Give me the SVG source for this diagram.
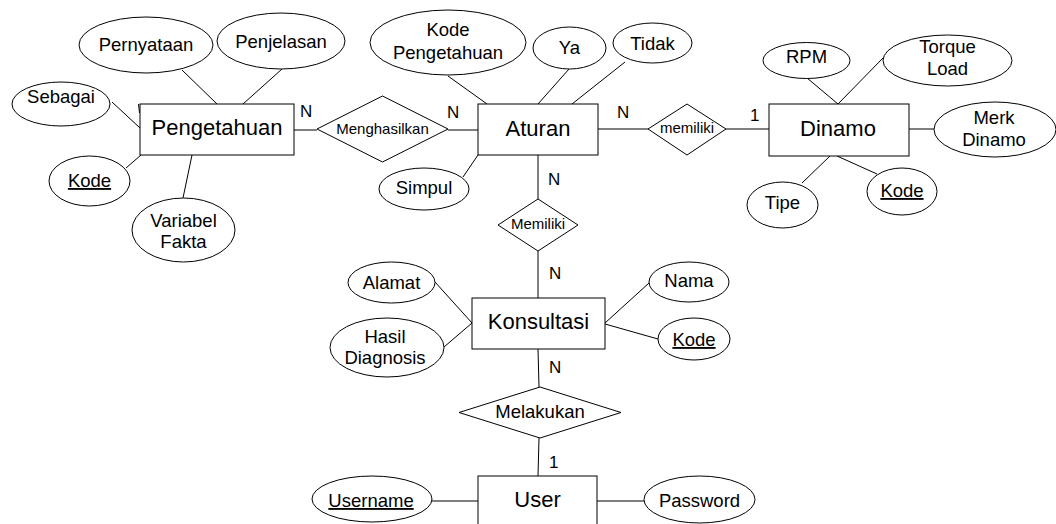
<svg xmlns="http://www.w3.org/2000/svg" width="1056" height="524" viewBox="0 0 1056 524">
<style>
text{font-family:"Liberation Sans",Arial,sans-serif;fill:#000;text-anchor:middle}
.ent{font-size:22px}
.att{font-size:18.5px}
.rel{font-size:15px}
.card{font-size:17px;text-anchor:start}
.u{text-decoration:underline}
rect,ellipse,polygon{fill:#fff;stroke:#000;stroke-width:1}
#connectors line{stroke:#000;stroke-width:1}
</style>
<rect x="0" y="0" width="1056" height="524" style="fill:#fff;stroke:none"/>
<g id="connectors">
<line x1="182" y1="70" x2="217" y2="104"/>
<line x1="282" y1="69" x2="243" y2="104"/>
<line x1="112" y1="102" x2="140" y2="128"/>
<line x1="138.5" y1="104" x2="139.5" y2="113"/>
<line x1="126" y1="168" x2="141" y2="155"/>
<line x1="192" y1="155" x2="183" y2="198"/>
<line x1="294" y1="130" x2="317" y2="130"/>
<line x1="448" y1="130" x2="478" y2="130"/>
<line x1="448" y1="76" x2="487" y2="104"/>
<line x1="569" y1="69" x2="538" y2="104"/>
<line x1="625" y1="62" x2="572" y2="104"/>
<line x1="463" y1="177" x2="478" y2="155"/>
<line x1="598" y1="129" x2="648" y2="129"/>
<line x1="726" y1="129" x2="769" y2="129"/>
<line x1="807" y1="78" x2="838" y2="104"/>
<line x1="883" y1="58" x2="838" y2="104"/>
<line x1="909" y1="129" x2="934" y2="129"/>
<line x1="802" y1="183" x2="830" y2="156"/>
<line x1="877" y1="174" x2="837" y2="156"/>
<line x1="538" y1="155" x2="538" y2="199"/>
<line x1="538" y1="251" x2="538" y2="298"/>
<line x1="435" y1="282" x2="472" y2="323"/>
<line x1="444" y1="347" x2="472" y2="323"/>
<line x1="649" y1="283" x2="605" y2="323"/>
<line x1="658" y1="339" x2="605" y2="324"/>
<line x1="538" y1="349" x2="539" y2="387"/>
<line x1="539" y1="438" x2="538" y2="476"/>
<line x1="432" y1="501" x2="478" y2="501"/>
<line x1="597" y1="501" x2="644" y2="501"/>
</g>
<g id="pengetahuan"><rect x="140" y="104" width="154" height="51"/><text class="ent" x="217" y="135">Pengetahuan</text></g>
<g id="pernyataan"><ellipse cx="146" cy="45" rx="67" ry="28"/><text class="att" x="146" y="50.5">Pernyataan</text></g>
<g id="penjelasan"><ellipse cx="281" cy="41" rx="64" ry="28"/><text class="att" x="281" y="48">Penjelasan</text></g>
<g id="sebagai"><ellipse cx="61" cy="104" rx="49" ry="22"/><text class="att" x="61" y="103">Sebagai</text></g>
<g id="kode-pengetahuan-key"><ellipse cx="89.5" cy="181" rx="40.5" ry="25"/><text class="att u" x="89.5" y="187">Kode</text></g>
<g id="variabel-fakta"><ellipse cx="183.5" cy="230" rx="51.5" ry="32"/><text class="att" x="183.5" y="227">Variabel</text><text class="att" x="183.5" y="248">Fakta</text></g>
<g id="menghasilkan"><polygon points="317,129 382.5,96 448,129 382.5,162"/><text class="rel" x="382.5" y="134">Menghasilkan</text></g>
<g id="aturan"><rect x="478" y="104" width="120" height="51"/><text class="ent" x="538" y="136">Aturan</text></g>
<g id="kode-pengetahuan"><ellipse cx="448" cy="42.5" rx="78" ry="32.5"/><text class="att" x="448" y="36">Kode</text><text class="att" x="448" y="59">Pengetahuan</text></g>
<g id="ya"><ellipse cx="569.5" cy="48" rx="36.5" ry="21"/><text class="att" x="569.5" y="54">Ya</text></g>
<g id="tidak"><ellipse cx="652.5" cy="43" rx="39.5" ry="20"/><text class="att" x="652.5" y="50">Tidak</text></g>
<g id="simpul"><ellipse cx="424" cy="189" rx="45" ry="21"/><text class="att" x="424" y="194">Simpul</text></g>
<g id="memiliki-dinamo"><polygon points="648,129 687,104 726,129 687,155"/><text class="rel" x="687" y="133">memiliki</text></g>
<g id="dinamo"><rect x="769" y="104" width="140" height="52"/><text class="ent" x="838" y="136">Dinamo</text></g>
<g id="rpm"><ellipse cx="806.5" cy="60.5" rx="43.5" ry="18"/><text class="att" x="806.5" y="62.5">RPM</text></g>
<g id="torque-load"><ellipse cx="947.5" cy="60.5" rx="64.5" ry="25.5"/><text class="att" x="947.5" y="53">Torque</text><text class="att" x="947.5" y="75">Load</text></g>
<g id="merk-dinamo"><ellipse cx="995" cy="129.5" rx="61" ry="27.5"/><text class="att" x="994" y="124">Merk</text><text class="att" x="994" y="146">Dinamo</text></g>
<g id="tipe"><ellipse cx="782.5" cy="205" rx="35.5" ry="23"/><text class="att" x="782.5" y="209">Tipe</text></g>
<g id="kode-dinamo"><ellipse cx="902" cy="191.5" rx="35" ry="23.5"/><text class="att u" x="902" y="197">Kode</text></g>
<g id="memiliki"><polygon points="498,225 538,199 578,225 538,251"/><text class="rel" x="538" y="229">Memiliki</text></g>
<g id="konsultasi"><rect x="472" y="298" width="133" height="51"/><text class="ent" x="538.5" y="329">Konsultasi</text></g>
<g id="alamat"><ellipse cx="391.5" cy="282.5" rx="43.5" ry="20.5"/><text class="att" x="391.5" y="289">Alamat</text></g>
<g id="hasil-diagnosis"><ellipse cx="387" cy="347.5" rx="57" ry="29.5"/><text class="att" x="385" y="343">Hasil</text><text class="att" x="385" y="364">Diagnosis</text></g>
<g id="nama"><ellipse cx="689" cy="282" rx="40" ry="20"/><text class="att" x="689" y="287">Nama</text></g>
<g id="kode-konsultasi"><ellipse cx="694" cy="339" rx="36" ry="21"/><text class="att u" x="694" y="346">Kode</text></g>
<g id="melakukan"><polygon points="459,412.5 540,387 621,412.5 540,438"/><text class="att" x="540" y="418">Melakukan</text></g>
<g id="user"><rect x="478" y="476" width="119" height="70"/><text class="ent" x="537.5" y="507">User</text></g>
<g id="username"><ellipse cx="372" cy="499" rx="60" ry="23"/><text class="att u" x="371" y="507">Username</text></g>
<g id="password"><ellipse cx="699.5" cy="499.5" rx="55.5" ry="23.5"/><text class="att" x="699.5" y="507">Password</text></g>
<g id="cardinalities">
<text class="card" x="300" y="117">N</text>
<text class="card" x="447" y="118">N</text>
<text class="card" x="617" y="118">N</text>
<text class="card" x="750" y="121">1</text>
<text class="card" x="548" y="185">N</text>
<text class="card" x="549" y="279">N</text>
<text class="card" x="549" y="373">N</text>
<text class="card" x="549" y="468">1</text>
</g>
</svg>
